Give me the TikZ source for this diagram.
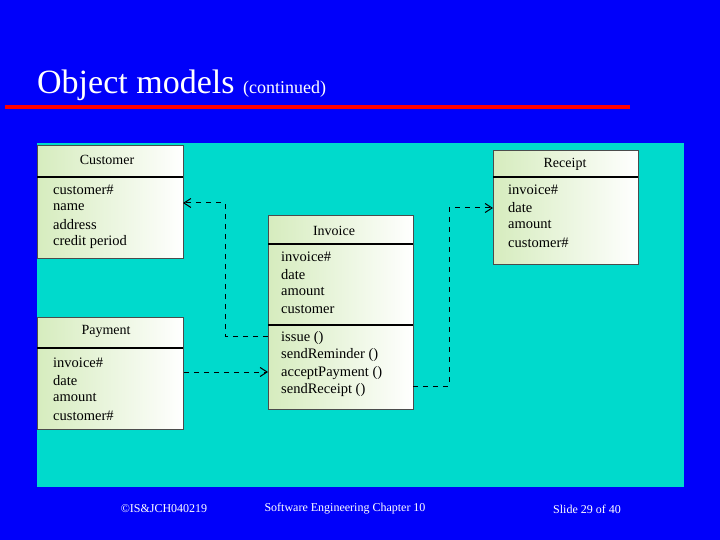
\documentclass[tikz,border=0pt]{standalone}
\usepackage{fontspec}
\setmainfont{Liberation Serif}
\usetikzlibrary{arrows.meta}
\definecolor{slideblue}{RGB}{0,0,250}
\definecolor{panel}{RGB}{0,218,204}
\definecolor{boxgreen}{RGB}{214,236,190}
\begin{document}
\begin{tikzpicture}[x=1pt,y=-1pt]
\tikzset{cls/.style={draw=black!70,line width=1.2pt,left color=boxgreen,right color=white,
  anchor=north west,inner sep=0pt},
every path/.style={>={Straight Barb[length=7pt,width=9pt]}},
link/.style={dashed,dash pattern=on 5pt off 5pt,line width=1pt},
attr/.style={anchor=west,inner sep=0pt,font=\fontsize{14.5}{16}\selectfont},
ttl/.style={inner sep=0pt,font=\fontsize{14}{16}\selectfont},
foot/.style={inner sep=0pt,font=\fontsize{12}{14}\selectfont,text=white}}
\useasboundingbox (0,0) rectangle (720,540);
\fill[slideblue] (0,0) rectangle (720,540);
\node[anchor=west,inner sep=0pt,text=white] (title) at (37,85)
  {\fontsize{34}{38}\selectfont Object models \fontsize{18}{20}\selectfont(continued)};
\draw[red,line width=4pt] (5,107) -- (630,107);
\fill[panel] (37,143) rectangle (684,487);
% classes
\node[cls,minimum width=146pt,minimum height=113pt] (cust) at (37,145) {};
\node[cls,minimum width=146pt,minimum height=112pt] (pay) at (37,317) {};
\node[cls,minimum width=145pt,minimum height=194pt] (inv) at (268,215) {};
\node[cls,minimum width=145pt,minimum height=114pt] (rec) at (493,150) {};
\draw[line width=1.2pt] (37,177) -- (183,177) (37,348) -- (183,348)
  (268,244) -- (413,244) (268,325) -- (413,325) (493,177) -- (638,177);
\node[ttl] (custT) at (107,160) {Customer};
\node[ttl] (payT) at (106,331) {Payment};
\node[ttl] (invT) at (334,231) {Invoice};
\node[ttl] (recT) at (565,164) {Receipt};
\foreach \t [count=\i] in {customer\#,name,address,credit period}
  \node[attr] (cust\i) at (53,172+17.6*\i) {\t};
\foreach \t [count=\i] in {invoice\#,date,amount,customer\#}
  \node[attr] (pay\i) at (53,345+17.6*\i) {\t};
\foreach \t [count=\i] in {invoice\#,date,amount,customer}
  \node[attr] (inv\i) at (281,239+17.6*\i) {\t};
\foreach \t [count=\i] in {issue (),sendReminder (),acceptPayment (),sendReceipt ()}
  \node[attr] (op\i) at (281,320+17.6*\i) {\t};
\foreach \t [count=\i] in {invoice\#,date,amount,customer\#}
  \node[attr] (rec\i) at (508,172+17.6*\i) {\t};
% associations
\coordinate (a1) at (268,336);
\coordinate (a2) at (183,203);
\draw[link,->] (a1) -| (225,203) -- (a2);
\draw[link,->] (pay.east |- 0,372) -- (inv.west |- 0,372);
\coordinate (b1) at (413,386);
\coordinate (b2) at (493,208);
\draw[link,->] (b1) -| (449,208) -- (b2);
% footer
\node[foot] (f1) at (164,509) {©IS\&JCH040219};
\node[foot] (f2) at (345,509) {Software Engineering Chapter 10};
\node[foot] (f3) at (587,509) {Slide 29 of 40};
\end{tikzpicture}
\end{document}
